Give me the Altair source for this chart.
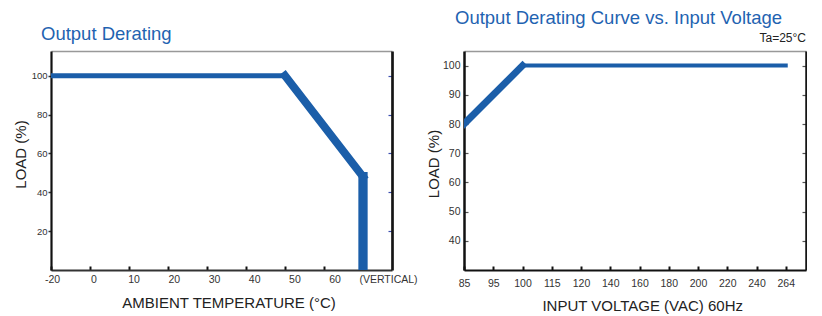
import altair as alt
import pandas as pd

# ---------------- data ----------------
# Left: Output Derating (ambient temperature)
temp_points = [-20, 50, 70, 70]
temp_load = [100, 100, 48, 0]
temp_seg_width = [5, 8, 9.3]
temp_ticks = [-20, 0, 10, 20, 30, 40, 50, 60, 70]
temp_labels = ["-20", "0", "10", "20", "30", "40", "50", "60", "(VERTICAL)"]
left_load_ticks = [20, 40, 60, 80, 100]

# Right: Output Derating Curve vs. Input Voltage
volt_points = [85, 100, 264]
volt_load = [80, 100, 100]
volt_seg_width = [7, 4]
volt_ticks = [85, 95, 100, 115, 120, 140, 160, 180, 200, 220, 240, 264]
right_load_ticks = [40, 50, 60, 70, 80, 90, 100]

BLUE = "#1b5ea9"
TITLE_BLUE = "#1f63b1"
FONT = "Liberation Sans"


def segments(xs, ys, widths):
    rows = []
    for i, w in enumerate(widths):
        for j in (i, i + 1):
            rows.append({"x": xs[j], "y": ys[j], "seg": i, "w": w})
    return pd.DataFrame(rows)


left_df = segments(temp_points, temp_load, temp_seg_width)
right_df = segments(volt_points, volt_load, volt_seg_width)

# ---------------- left chart ----------------
LW, LH = 341, 219
step_l = 39  # px per 10 degC (the -20..0 span is drawn as one step)
x_end_l = 70 + (LW - step_l * 8) / step_l * 10
xs_l = alt.Scale(domain=[-20, 0, x_end_l], range=[0, step_l, LW])
ys_l = alt.Scale(domain=[0, 112.7], nice=False, zero=False)

label_map = "{" + ",".join(f"'{v}':'{t}'" for v, t in zip(temp_ticks, temp_labels)) + "}"

left_line = alt.Chart(left_df).mark_line(color=BLUE, strokeCap="square", clip=True).encode(
    x=alt.X("x:Q", scale=xs_l, axis=alt.Axis(
        orient="bottom", values=temp_ticks, labelExpr=f"{label_map}[datum.value + '']",
        title="AMBIENT TEMPERATURE (°C)", titleFont=FONT, titleFontSize=15,
        titleFontWeight="normal", titleColor="#222", titleX=177.6, titleY=37.4,
        titleBaseline="alphabetic", titleAlign="center",
        labelFont=FONT, labelFontSize=10.5, labelColor="#333",
        labelOffset=alt.expr("datum.value == 70 ? 25 : 1 + (datum.value + 20) * 0.12"),
        labelFlush=False, labelOverlap=False, labelBound=False,
        labelPadding=8, tickSize=alt.expr("-4"), tickWidth=2, tickColor="#111",
        domainColor="#333", domainWidth=2, grid=False,
    )),
    y=alt.Y("y:Q", scale=ys_l, axis=alt.Axis(
        orient="left", values=left_load_ticks, title="LOAD (%)", titleFont=FONT,
        titleFontSize=15, titleFontWeight="normal", titleColor="#222",
        titleX=-25.7, titleY=103, titleAngle=270, titleBaseline="alphabetic", titleAlign="center",
        labelFont=FONT, labelFontSize=9.5, labelColor="#333", labelPadding=1,
        labelFlush=False, labelOverlap=False,
        tickSize=3, tickWidth=1.5, tickColor="#333",
        domainColor="#111", domainWidth=2.2, grid=False,
    )),
    detail="seg:N",
    strokeWidth=alt.StrokeWidth("w:Q", scale=None),
)

left_frame = alt.Chart(left_df).mark_point(opacity=0, clip=True).encode(
    x=alt.X("x:Q", scale=xs_l, axis=alt.Axis(
        orient="top", labels=False, ticks=False, title=None,
        domainColor="#999", domainWidth=1.6, grid=False)),
    y=alt.Y("y:Q", scale=ys_l, axis=alt.Axis(
        orient="right", labels=False, values=left_load_ticks, title=None,
        tickSize=alt.expr("-4"), tickWidth=1.2, tickColor="#3c4fb0",
        domainColor="#151515", domainWidth=2.7, grid=False)),
)

left = alt.layer(left_line, left_frame).resolve_axis(x="independent", y="independent").properties(
    width=LW, height=LH,
    title=alt.TitleParams("Output Derating", anchor="start", frame="group", dx=-10,
                          fontSize=18.5, font=FONT, fontWeight="normal", color=TITLE_BLUE,
                          baseline="alphabetic", offset=-7.3),
)

# ---------------- right chart ----------------
RW, RH = 342, 219
step_r = 29.25  # px between consecutive voltage ticks
x_end_r = 264 + (RW - step_r * 11) / step_r * 24
xs_r = alt.Scale(domain=volt_ticks + [x_end_r],
                 range=[i * step_r for i in range(len(volt_ticks))] + [RW])
ys_r = alt.Scale(domain=[30, 105], nice=False, zero=False)

right_line = alt.Chart(right_df).mark_line(color=BLUE, strokeCap="square", clip=True).encode(
    x=alt.X("x:Q", scale=xs_r, axis=alt.Axis(
        orient="bottom", values=volt_ticks,
        title="INPUT VOLTAGE (VAC) 60Hz", titleFont=FONT, titleFontSize=15,
        titleFontWeight="normal", titleColor="#222", titleX=178.2, titleY=40.7,
        titleBaseline="alphabetic", titleAlign="center",
        labelFont=FONT, labelFontSize=10.5, labelColor="#333",
        labelFlush=False, labelOverlap=False, labelBound=False,
        labelPadding=12, tickSize=alt.expr("-4"), tickWidth=2, tickColor="#111",
        domainColor="#111", domainWidth=2, grid=False,
    )),
    y=alt.Y("y:Q", scale=ys_r, axis=alt.Axis(
        orient="left", values=right_load_ticks, title="LOAD (%)", titleFont=FONT,
        titleFontSize=15, titleFontWeight="normal", titleColor="#222",
        titleX=-25.7, titleY=112.5, titleAngle=270, titleBaseline="alphabetic", titleAlign="center",
        labelFont=FONT, labelFontSize=10.5, labelColor="#333", labelPadding=8,
        labelFlush=False, labelOverlap=False,
        tickSize=alt.expr("-4"), tickWidth=1.2, tickColor="#555",
        domainColor="#111", domainWidth=2.5, grid=False,
    )),
    detail="seg:N",
    strokeWidth=alt.StrokeWidth("w:Q", scale=None),
)

right_frame = alt.Chart(right_df).mark_point(opacity=0, clip=True).encode(
    x=alt.X("x:Q", scale=xs_r, axis=alt.Axis(
        orient="top", labels=False, ticks=False, title=None,
        domainColor="#999", domainWidth=1.6, grid=False)),
    y=alt.Y("y:Q", scale=ys_r, axis=alt.Axis(
        orient="right", labels=False, values=right_load_ticks, title=None,
        tickSize=alt.expr("-4"), tickWidth=1.2, tickColor="#555",
        domainColor="#151515", domainWidth=2.5, grid=False)),
)

ta_note = alt.Chart(pd.DataFrame({"t": ["Ta=25°C"]})).mark_text(
    align="right", baseline="alphabetic", font=FONT, fontSize=12, color="#222"
).encode(x=alt.value(RW), y=alt.value(-9), text="t:N")

right = alt.layer(right_line, right_frame, ta_note).resolve_axis(x="independent", y="independent").properties(
    width=RW, height=RH,
    title=alt.TitleParams("Output Derating Curve vs. Input Voltage", anchor="start", frame="group",
                          dx=-9, fontSize=18.5, font=FONT, fontWeight="normal", color=TITLE_BLUE,
                          baseline="alphabetic", offset=-10),
)

chart = alt.hconcat(left, right, spacing=8).configure_view(strokeOpacity=0).properties(
    padding={"left": 5, "top": 0, "right": 0, "bottom": 0}
)

chart.save("out.html", embed_options={"renderer": "svg", "actions": False})
